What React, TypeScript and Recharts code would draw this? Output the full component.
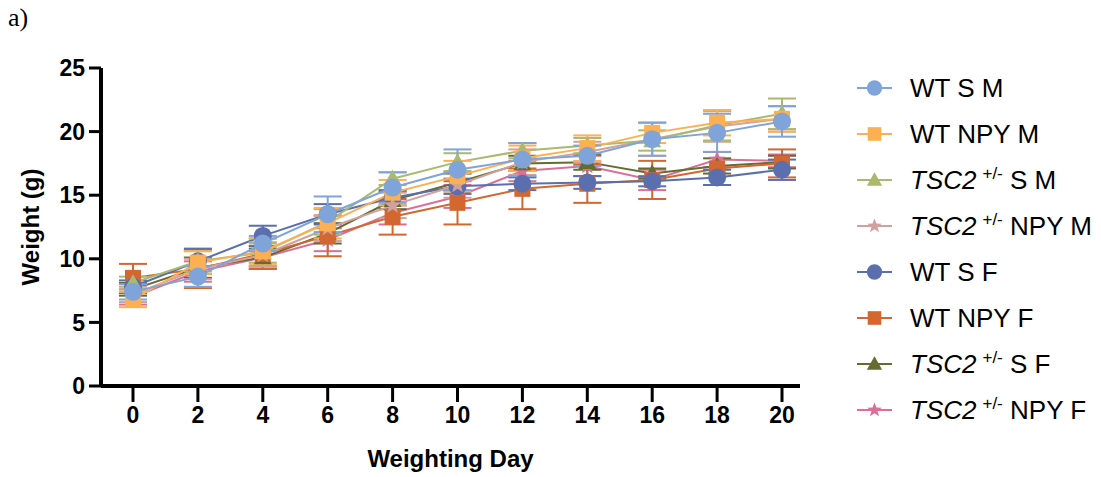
import React from "react";
import {
  LineChart,
  Line,
  XAxis,
  YAxis,
  ErrorBar,
  Legend,
} from "recharts";

// weighing days
const days = [0, 2, 4, 6, 8, 10, 12, 14, 16, 18, 20];
const yTicks = [0, 5, 10, 15, 20, 25];

// mean weights (g)
const wtSM = [7.4, 8.6, 11.2, 13.5, 15.6, 17.0, 17.8, 18.1, 19.4, 19.9, 20.8];
const wtNpyM = [6.8, 9.7, 10.6, 12.8, 15.2, 16.5, 17.9, 18.7, 19.9, 20.7, 21.0];
const tscSM = [8.1, 9.8, 10.5, 12.9, 16.3, 17.6, 18.5, 18.9, 19.3, 20.5, 21.4];
const tscNpyM = [7.2, 9.2, 10.3, 12.4, 14.2, 15.8, 17.6, 18.4, 19.4, 20.4, 21.0];
const wtSF = [7.8, 9.8, 11.8, 13.5, 14.8, 15.7, 15.9, 16.0, 16.1, 16.4, 17.0];
const wtNpyF = [8.5, 9.2, 10.4, 11.8, 13.3, 14.4, 15.5, 15.9, 16.2, 17.1, 17.5];
const tscSF = [7.6, 9.3, 10.1, 12.0, 14.6, 16.0, 17.5, 17.6, 16.7, 17.3, 17.6];
const tscNpyF = [7.0, 9.0, 10.1, 11.5, 13.6, 14.9, 16.9, 17.3, 16.2, 17.8, 17.7];

// error (SD)
const wtSMErr = [0.6, 0.8, 0.6, 1.4, 1.2, 1.6, 1.3, 0.8, 1.3, 1.5, 1.2];
const wtNpyMErr = [0.6, 0.9, 1.0, 1.2, 1.0, 1.2, 1.0, 1.0, 0.8, 1.0, 1.0];
const tscSMErr = [0.5, 0.8, 0.8, 1.0, 0.5, 0.7, 0.6, 0.6, 0.8, 1.2, 1.2];
const tscNpyMErr = [0.6, 0.8, 0.9, 1.0, 1.0, 1.0, 1.0, 0.8, 1.3, 1.2, 1.0];
const wtSFErr = [0.5, 1.0, 0.8, 0.8, 0.6, 0.6, 0.5, 0.5, 0.4, 0.6, 0.8];
const wtNpyFErr = [1.1, 1.5, 1.2, 1.6, 1.4, 1.7, 1.6, 1.5, 1.5, 1.3, 1.1];
const tscSFErr = [0.5, 0.8, 0.7, 0.8, 0.7, 0.7, 0.6, 0.6, 0.4, 0.6, 0.5];
const tscNpyFErr = [0.6, 0.8, 0.9, 0.9, 0.9, 0.9, 0.8, 0.8, 0.8, 0.6, 0.5];

type Shape = "circle" | "square" | "triangle" | "star";

const series = [
  { key: "wtSM", geno: "WT", rest: "S M", values: wtSM, err: wtSMErr, color: "#7FA4D9", shape: "circle" as Shape },
  { key: "wtNpyM", geno: "WT", rest: "NPY M", values: wtNpyM, err: wtNpyMErr, color: "#FDB052", shape: "square" as Shape },
  { key: "tscSM", geno: "TSC2", rest: "S M", values: tscSM, err: tscSMErr, color: "#A9B96E", shape: "triangle" as Shape },
  { key: "tscNpyM", geno: "TSC2", rest: "NPY M", values: tscNpyM, err: tscNpyMErr, color: "#D3A19D", shape: "star" as Shape },
  { key: "wtSF", geno: "WT", rest: "S F", values: wtSF, err: wtSFErr, color: "#5B6FAF", shape: "circle" as Shape },
  { key: "wtNpyF", geno: "WT", rest: "NPY F", values: wtNpyF, err: wtNpyFErr, color: "#D2672F", shape: "square" as Shape },
  { key: "tscSF", geno: "TSC2", rest: "S F", values: tscSF, err: tscSFErr, color: "#646C30", shape: "triangle" as Shape },
  { key: "tscNpyF", geno: "TSC2", rest: "NPY F", values: tscNpyF, err: tscNpyFErr, color: "#DB7097", shape: "star" as Shape },
];

const data = days.map((d, i) => {
  const row: Record<string, number> = { day: d };
  series.forEach((s) => {
    row[s.key] = s.values[i];
    row[s.key + "Err"] = s.err[i];
  });
  return row;
});

function starPoints(cx: number, cy: number, r: number) {
  const pts: string[] = [];
  for (let i = 0; i < 10; i++) {
    const rad = i % 2 === 0 ? r : r * 0.42;
    const a = -Math.PI / 2 + (i * Math.PI) / 5;
    pts.push(`${cx + rad * Math.cos(a)},${cy + rad * Math.sin(a)}`);
  }
  return pts.join(" ");
}

function Marker({ cx, cy, shape, color, scale = 1 }: { cx: number; cy: number; shape: Shape; color: string; scale?: number }) {
  if (shape === "circle") return <circle cx={cx} cy={cy} r={9 * scale} fill={color} />;
  if (shape === "square") {
    const h = 8 * scale;
    return <rect x={cx - h} y={cy - h} width={h * 2} height={h * 2} fill={color} />;
  }
  if (shape === "triangle") {
    const r = 9 * scale;
    return <polygon points={`${cx},${cy - r} ${cx + r},${cy + r * 0.75} ${cx - r},${cy + r * 0.75}`} fill={color} />;
  }
  return <polygon points={starPoints(cx, cy, 9 * scale)} fill={color} />;
}

function renderLegend() {
  return (
    <div style={{ fontFamily: "'Liberation Sans', Arial, sans-serif", fontSize: 26, color: "#000" }}>
      {series.map((s) => (
        <div key={s.key} style={{ display: "flex", alignItems: "center", height: 46 }}>
          <svg width={55} height={30}>
            <line x1={2} y1={15} x2={37} y2={15} stroke={s.color} strokeWidth={2} />
            <Marker cx={19.5} cy={15} shape={s.shape} color={s.color} scale={0.85} />
          </svg>
          {s.geno === "TSC2" ? (
            <span>
              <i>TSC2</i>
              <sup style={{ fontSize: 17, marginLeft: 6 }}>+/-</sup> {s.rest}
            </span>
          ) : (
            <span>
              {s.geno} {s.rest}
            </span>
          )}
        </div>
      ))}
    </div>
  );
}

const tickStyle = { fontFamily: "'Liberation Sans', Arial, sans-serif", fontSize: 23, fontWeight: 700, fill: "#000" };
const titleStyle = { fontFamily: "'Liberation Sans', Arial, sans-serif", fontSize: 24, fontWeight: 700, fill: "#000" };

export default function App() {
  const drawOrder = [...series].reverse();
  return (
    <div style={{ position: "absolute", left: 0, top: 0, width: 1101, height: 477, background: "#fff" }}>
      <div
        style={{
          position: "absolute",
          left: 8,
          top: 3,
          fontFamily: "'Liberation Serif', 'Times New Roman', serif",
          fontSize: 26,
        }}
      >
        a)
      </div>
      <LineChart width={1101} height={477} data={data} margin={{ top: 68, right: 47, bottom: 0, left: 0 }}>
        <XAxis
          dataKey="day"
          type="number"
          domain={[0, 20]}
          ticks={days}
          padding={{ left: 32, right: 18 }}
          height={91}
          tickSize={16}
          tickMargin={5}
          tick={tickStyle}
          axisLine={{ stroke: "#000", strokeWidth: 4 }}
          tickLine={{ stroke: "#000", strokeWidth: 3 }}
          label={{ value: "Weighting Day", position: "insideBottom", offset: 10, style: titleStyle }}
        />
        <YAxis
          type="number"
          domain={[0, 25]}
          ticks={yTicks}
          width={101}
          tickSize={12}
          tickMargin={4}
          tick={tickStyle}
          axisLine={{ stroke: "#000", strokeWidth: 4 }}
          tickLine={{ stroke: "#000", strokeWidth: 3 }}
          label={{
            value: "Weight (g)",
            angle: -90,
            position: "insideLeft",
            offset: 30,
            style: { ...titleStyle, textAnchor: "middle" },
          }}
        />
        <Legend
          layout="vertical"
          verticalAlign="top"
          align="right"
          content={renderLegend}
          wrapperStyle={{ left: 855, top: 65, width: 254 }}
        />
        {drawOrder.map((s) => (
          <Line
            key={s.key}
            dataKey={s.key}
            stroke={s.color}
            strokeWidth={2}
            isAnimationActive={false}
            dot={(p: any) => <Marker key={`${s.key}-${p.index}`} cx={p.cx} cy={p.cy} shape={s.shape} color={s.color} />}
            activeDot={false}
          >
            <ErrorBar dataKey={s.key + "Err"} direction="y" width={14} stroke={s.color} strokeWidth={2} />
          </Line>
        ))}
      </LineChart>
    </div>
  );
}
